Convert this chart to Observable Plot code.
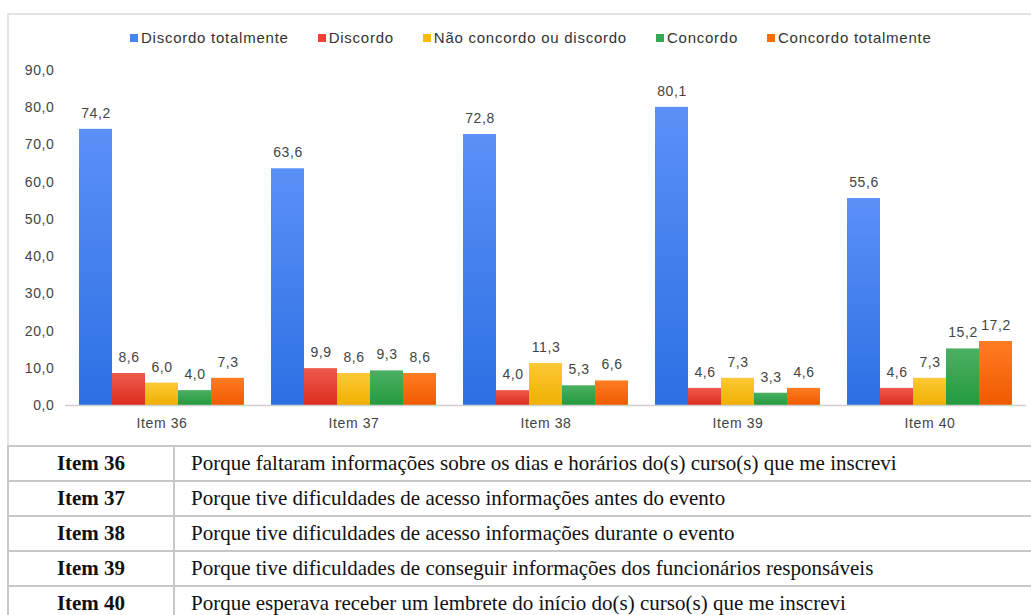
<!DOCTYPE html>
<html>
<head>
<meta charset="utf-8">
<script src="https://cdn.jsdelivr.net/npm/d3@7"></script>
<script src="https://cdn.jsdelivr.net/npm/@observablehq/plot@0.6"></script>
<style>
  html, body { margin: 0; padding: 0; background: #fff; }
  body { position: relative; width: 1031px; height: 615px; overflow: hidden; font-family: "Liberation Sans", Arial, sans-serif; }
  #box { position: absolute; left: 7px; top: 13px; width: 1060px; height: 432px; border-top: 2px solid #e4e4e4; border-left: 2px solid #e4e4e4; }
  #legend { position: absolute; left: 130px; top: 29px; display: flex; gap: 29px; font-size: 15px; letter-spacing: 0.75px; color: #333; white-space: nowrap; }
  #legend .it { display: flex; align-items: center; }
  #legend .sw { width: 8px; height: 8px; margin-right: 3px; }
  #chart { position: absolute; left: 0; top: 0; }
  #chart svg text { letter-spacing: 0.6px; }
  #tbl { position: absolute; left: 7px; top: 445px; width: 1070px; border-collapse: collapse; font-family: "Liberation Serif", "Times New Roman", serif; font-size: 21px; color: #111; }
  #tbl td { border: 2px solid #c8c8c8; height: 33px; padding: 0; }
  #tbl td.k { width: 164px; text-align: center; font-weight: bold; }
  #tbl td.v { padding-left: 16px; }
</style>
</head>
<body>
<div id="box"></div>
<div id="legend"></div>
<div id="chart"></div>
<table id="tbl"></table>
<script>
const items = ["Item 36", "Item 37", "Item 38", "Item 39", "Item 40"];
const series = ["Discordo totalmente", "Discordo", "Não concordo ou discordo", "Concordo", "Concordo totalmente"];
const discordoTotalmente = [74.2, 63.6, 72.8, 80.1, 55.6];
const discordo = [8.6, 9.9, 4.0, 4.6, 4.6];
const naoConcordoNemDiscordo = [6.0, 8.6, 11.3, 7.3, 7.3];
const concordo = [4.0, 9.3, 5.3, 3.3, 15.2];
const concordoTotalmente = [7.3, 8.6, 6.6, 4.6, 17.2];
const yTicks = [0, 10, 20, 30, 40, 50, 60, 70, 80, 90];
const descriptions = [
  "Porque faltaram informações sobre os dias e horários do(s) curso(s) que me inscrevi",
  "Porque tive dificuldades de acesso informações antes do evento",
  "Porque tive dificuldades de acesso informações durante o evento",
  "Porque tive dificuldades de conseguir informações dos funcionários responsáveis",
  "Porque esperava receber um lembrete do início do(s) curso(s) que me inscrevi"
];
const legendColors = ["#4285f4", "#ea4335", "#fbbc04", "#34a853", "#ff6d01"];
const gradTop = ["#5b90f6", "#ef5a4c", "#fdc935", "#4bb062", "#ff7c22"];
const gradBottom = ["#2c70e4", "#dc2d1f", "#efb000", "#249a3e", "#f05a00"];

const allSeries = [discordoTotalmente, discordo, naoConcordoNemDiscordo, concordo, concordoTotalmente];
const data = [];
items.forEach((item, i) => {
  series.forEach((s, j) => data.push({ item, series: s, value: allSeries[j][i] }));
});

const fmt = v => v.toFixed(1).replace(".", ",");
const gradIds = series.map((s, j) => `url(#grad${j})`);

const plot = Plot.plot({
  width: 1031,
  height: 446,
  marginLeft: 65,
  marginRight: 6,
  marginTop: 70,
  marginBottom: 41,
  style: { fontFamily: "'Liberation Sans', Arial, sans-serif", fontSize: "14px", color: "#444", background: "transparent" },
  fx: { domain: items, paddingInner: 0.143, paddingOuter: 0.071, label: null, axis: "bottom", tickSize: 0, tickPadding: 13 },
  x: { domain: series, axis: null, padding: 0 },
  y: { domain: [0, 90], ticks: yTicks, tickFormat: fmt, tickSize: 0, tickPadding: 25, label: null },
  color: { domain: series, range: gradIds },
  marks: [
    Plot.barY(data, { fx: "item", x: "series", y: "value", fill: "series" }),
    Plot.ruleY(items.map(item => ({ item, v: 0 })), { fx: "item", y: "v", stroke: "#cfcfcf", strokeWidth: 1.5, insetLeft: -14, insetRight: -14 }),
    Plot.text(data, { fx: "item", x: "series", y: "value", text: d => fmt(d.value), dy: -16, fill: "#444", fontSize: 14 })
  ]
});

const ns = "http://www.w3.org/2000/svg";
const defs = document.createElementNS(ns, "defs");
series.forEach((s, j) => {
  const g = document.createElementNS(ns, "linearGradient");
  g.setAttribute("id", `grad${j}`);
  g.setAttribute("x1", "0"); g.setAttribute("y1", "0");
  g.setAttribute("x2", "0"); g.setAttribute("y2", "1");
  const s1 = document.createElementNS(ns, "stop");
  s1.setAttribute("offset", "0"); s1.setAttribute("stop-color", gradTop[j]);
  const s2 = document.createElementNS(ns, "stop");
  s2.setAttribute("offset", "1"); s2.setAttribute("stop-color", gradBottom[j]);
  g.appendChild(s1); g.appendChild(s2);
  defs.appendChild(g);
});
plot.insertBefore(defs, plot.firstChild);
document.getElementById("chart").appendChild(plot);

const legend = document.getElementById("legend");
series.forEach((s, j) => {
  const it = document.createElement("div");
  it.className = "it";
  const sw = document.createElement("span");
  sw.className = "sw";
  sw.style.background = legendColors[j];
  const tx = document.createElement("span");
  tx.textContent = s;
  it.appendChild(sw); it.appendChild(tx);
  legend.appendChild(it);
});

const tbl = document.getElementById("tbl");
items.forEach((item, i) => {
  const tr = document.createElement("tr");
  const k = document.createElement("td");
  k.className = "k"; k.textContent = item;
  const v = document.createElement("td");
  v.className = "v"; v.textContent = descriptions[i];
  tr.appendChild(k); tr.appendChild(v);
  tbl.appendChild(tr);
});
</script>
</body>
</html>
